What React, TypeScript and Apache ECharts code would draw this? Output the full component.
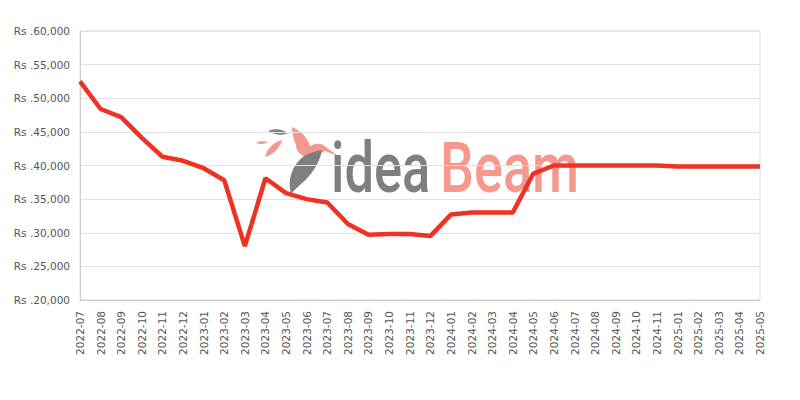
import React, { useEffect, useRef } from "react";
import * as echarts from "echarts";

const categories = [
  "2022-07", "2022-08", "2022-09", "2022-10", "2022-11", "2022-12",
  "2023-01", "2023-02", "2023-03", "2023-04", "2023-05", "2023-06",
  "2023-07", "2023-08", "2023-09", "2023-10", "2023-11", "2023-12",
  "2024-01", "2024-02", "2024-03", "2024-04", "2024-05", "2024-06",
  "2024-07", "2024-08", "2024-09", "2024-10", "2024-11",
  "2025-01", "2025-02", "2025-03", "2025-04", "2025-05",
];

const prices = [
  52500, 48400, 47200, 44100, 41300, 40700,
  39600, 37800, 28000, 38100, 35900, 35000,
  34500, 31300, 29700, 29800, 29800, 29500,
  32700, 33000, 33000, 33000, 38800, 40000,
  40000, 40000, 40000, 40000, 40000,
  39850, 39850, 39850, 39850, 39850,
];

const yMin = 20000;
const yMax = 60000;
const yStep = 5000;

const birdPath =
  "M292,127 C302,131 308,139 310,146 C316,143 322,143 326,147 L338,156 L325,151 C320,154 312,156 304,156 C299,154 296,150 296,145 C294,140 292,134 292,127 Z";
const featherPath =
  "M291,194 C287,180 292,165 304,156 C311,152 317,151 322,150 C320,162 312,175 301,184 C297,188 293,191 291,194 Z";
const pinkLeafPath = "M265,157 C267,148 274,142 282,140 C280,148 274,154 265,157 Z";
const grayLeafPath = "M268,131 C275,128 282,129 288,133 C282,136 275,135 268,131 Z";
const tinyLeafPath = "M256,143 C259,141 264,141 268,142 C265,144 260,145 256,143 Z";

function makeShape(d: string) {
  return (echarts.graphic as any).extendPath(d, {});
}

echarts.graphic.registerShape("ibBird", makeShape(birdPath));
echarts.graphic.registerShape("ibFeather", makeShape(featherPath));
echarts.graphic.registerShape("ibPinkLeaf", makeShape(pinkLeafPath));
echarts.graphic.registerShape("ibGrayLeaf", makeShape(grayLeafPath));
echarts.graphic.registerShape("ibTinyLeaf", makeShape(tinyLeafPath));

export default function App() {
  const ref = useRef<HTMLDivElement>(null);

  useEffect(() => {
    if (!ref.current) return;
    const chart = echarts.init(ref.current, undefined, { renderer: "svg" });
    const pink = "#f5998f";
    const gray = "#7f7f7f";
    chart.setOption({
      animation: false,
      backgroundColor: "#ffffff",
      grid: {
        left: 80,
        right: 40,
        top: 31,
        bottom: 100,
        show: true,
        borderColor: "#dddddd",
        borderWidth: 1,
        backgroundColor: "transparent",
      },
      graphic: [
        { type: "ibBird", x: 0, y: 0, z: -10, style: { fill: pink } },
        { type: "ibFeather", x: 0, y: 0, z: -10, style: { fill: gray } },
        { type: "ibPinkLeaf", x: 0, y: 0, z: -10, style: { fill: pink } },
        { type: "ibGrayLeaf", x: 0, y: 0, z: -10, style: { fill: gray } },
        { type: "ibTinyLeaf", x: 0, y: 0, z: -10, style: { fill: pink } },
        {
          type: "text",
          z: -10,
          x: 331,
          y: 203,
          scaleX: 0.75,
          style: {
            text: "idea",
            fill: gray,
            font: "500 70px Roboto",
            verticalAlign: "bottom",
          },
        },
        {
          type: "text",
          z: -10,
          x: 440,
          y: 203,
          scaleX: 0.77,
          style: {
            text: "Beam",
            fill: pink,
            font: "500 70px Roboto",
            verticalAlign: "bottom",
          },
        },
      ],
      xAxis: {
        type: "category",
        data: categories,
        boundaryGap: false,
        axisLine: { lineStyle: { color: "#cccccc" } },
        axisTick: { show: false },
        axisLabel: {
          rotate: 90,
          interval: 0,
          margin: 11,
          color: "#555555",
          fontFamily: "DejaVu Sans",
          fontSize: 10.5,
        },
        splitLine: { show: false },
      },
      yAxis: {
        type: "value",
        min: yMin,
        max: yMax,
        interval: yStep,
        axisLine: { show: true, lineStyle: { color: "#cccccc" } },
        axisTick: { show: false },
        axisLabel: {
          margin: 10,
          color: "#555555",
          fontFamily: "DejaVu Sans",
          fontSize: 10.5,
          formatter: (v: number) => "Rs ." + v.toLocaleString("en-US"),
        },
        splitLine: { lineStyle: { color: "#e2e2e2" } },
      },
      series: [
        {
          type: "line",
          data: prices,
          showSymbol: false,
          symbol: "none",
          lineStyle: { color: "#ee3224", width: 4.5 },
          z: 5,
        },
      ],
    });
    return () => chart.dispose();
  }, []);

  return <div ref={ref} style={{ width: 800, height: 400, position: "absolute", left: 0, top: 0 }} />;
}
